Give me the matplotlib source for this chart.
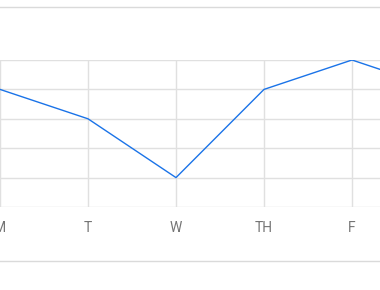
import matplotlib
matplotlib.use("Agg")
import matplotlib.pyplot as plt
from matplotlib.lines import Line2D

# data
days = ["M", "T", "W", "TH", "F", "S"]
values = [4, 3, 1, 4, 5, 4]

plt.rcParams['font.family'] = ['Roboto', 'DejaVu Sans']

fig = plt.figure(figsize=(3.8, 2.9), dpi=100)
ax = fig.add_axes([0, (290 - 207) / 290, 1, (207 - 60) / 290])

x = list(range(len(days)))
ax.plot(x, values, color="#1a73e8", linewidth=1.0, clip_on=True)

ax.set_xticks(x)
ax.set_xticklabels(days, color="#757575", fontsize=10)
ax.set_yticks(range(0, 6))
# set limits after ticks so the view is not expanded
ax.set_xlim(0, 380 / 88)
ax.set_ylim(0, 5)
ax.tick_params(axis="both", length=0, pad=10)
ax.tick_params(axis="y", labelleft=False)
ax.grid(True, color="#e0e0e0", linewidth=1.0)
ax.set_axisbelow(True)
for s in ax.spines.values():
    s.set_visible(False)

# top and bottom separator lines
for yy in (7, 261):
    fy = 1 - yy / 290
    fig.add_artist(Line2D([0, 1], [fy, fy], transform=fig.transFigure,
                          color="#dadada", linewidth=1.0))

fig.savefig("out.png", dpi=100)
